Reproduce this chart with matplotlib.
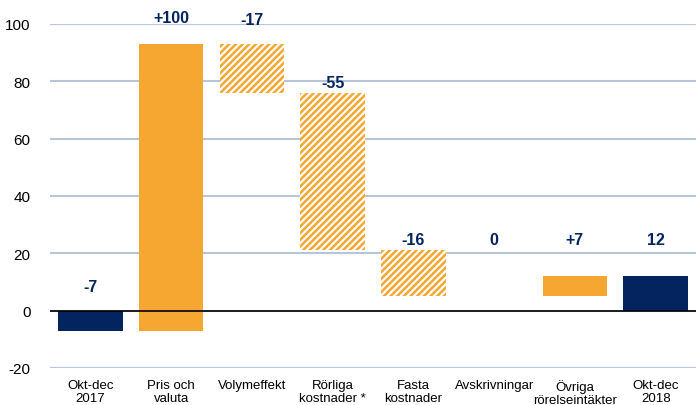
import matplotlib.pyplot as plt
import numpy as np

plt.rcParams['font.family'] = ['Liberation Sans Narrow', 'Liberation Sans', 'DejaVu Sans']
plt.rcParams['hatch.linewidth'] = 1.8
plt.rcParams['axes.unicode_minus'] = False

# waterfall data, first and last are totals
categories = ['Okt-dec\n2017', 'Pris och\nvaluta', 'Volymeffekt', 'Rörliga\nkostnader *',
              'Fasta\nkostnader', 'Avskrivningar', 'Övriga\nrörelseintäkter', 'Okt-dec\n2018']
values = [-7, 100, -17, -55, -16, 0, 7, 12]
kinds = ['total', 'up', 'down', 'down', 'down', 'down', 'up', 'total']
value_labels = ['-7', '+100', '-17', '-55', '-16', '0', '+7', '12']

# where the value labels sit (data units), placed by hand like the original
label_y = [8.4, 102.4, 101.7, 79.5, 24.8, 24.8, 24.8, 24.8]

NAVY = '#03245F'
ORANGE = '#F5A731'
GRID = '#B8C4DA'

fig = plt.figure(figsize=(6.96, 4.06), dpi=100)
ax = fig.add_axes([50 / 696, 1 - 369 / 406, 646 / 696, 344 / 406])

x = np.arange(len(categories))
running = 0
for i, (v, k) in enumerate(zip(values, kinds)):
    if k == 'total':
        bottom, height = 0, v
        running = v
    else:
        bottom, height = running, v
        running += v
    if k == 'total':
        ax.bar(x[i], height, bottom=bottom, width=0.8, color=NAVY, zorder=3)
    elif k == 'up':
        ax.bar(x[i], height, bottom=bottom, width=0.8, color=ORANGE, zorder=3)
    else:
        ax.bar(x[i], height, bottom=bottom, width=0.8, facecolor='white',
               edgecolor=ORANGE, hatch='/////', linewidth=0, zorder=3)
    ax.text(x[i], label_y[i], value_labels[i], ha='center', va='center',
            fontsize=11.5, fontweight='bold', color=NAVY, clip_on=False)

ax.set_xlim(-0.5, len(categories) - 0.5)
ax.set_ylim(-20, 100)
ax.set_yticks([-20, 0, 20, 40, 60, 80, 100])
ax.set_xticks(x)
ax.set_xticklabels(categories, fontsize=9.5, linespacing=1.1)
ax.tick_params(axis='y', labelsize=11, length=0, pad=14)
ax.tick_params(axis='x', length=0, pad=8)

for s in ['top', 'right', 'left', 'bottom']:
    ax.spines[s].set_visible(False)

ax.yaxis.grid(True, color=GRID, linewidth=1.5, zorder=0)
ax.axhline(0, color='black', linewidth=1.2, zorder=4)

fig.savefig('out.png', dpi=100)
